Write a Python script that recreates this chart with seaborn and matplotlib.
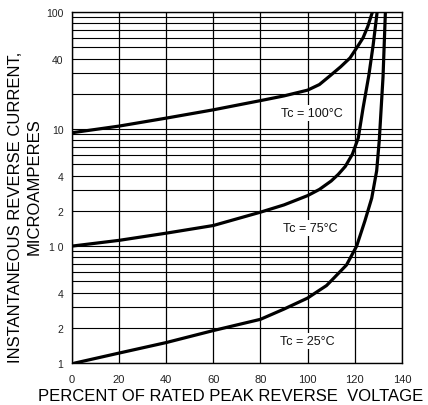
import numpy as np
import pandas as pd
import seaborn as sns
from matplotlib import pyplot as plt
from matplotlib.ticker import FixedLocator, LogLocator, NullFormatter

# Percent of rated peak reverse voltage vs current (microamperes).
pct_100 = [0, 20, 40, 60, 80, 90, 100, 105, 109.5, 114, 118, 121, 123.5, 125.5, 127.5]
cur_100 = [9.3, 10.6, 12.4, 14.6, 17.5, 19.2, 21.5, 24, 28.5, 34, 40.5, 50, 60, 75, 100]

pct_75 = [0, 20, 40, 60, 80, 90, 100, 105, 110, 113, 116, 119, 121.5, 123.5, 126, 127.8, 129.5]
cur_75 = [1.0, 1.12, 1.29, 1.5, 1.95, 2.25, 2.7, 3.05, 3.6, 4.1, 4.8, 6.1, 8.4, 15, 29, 52, 100]

pct_25 = [1, 20, 40, 60, 80, 90, 100, 105, 108, 111, 116.5, 120.8, 124.3, 127.2, 129.3, 130.4, 132, 133]
cur_25 = [0.1, 0.122, 0.15, 0.19, 0.237, 0.29, 0.36, 0.42, 0.46, 0.53, 0.69, 1.0, 1.64, 2.57, 4.4, 8, 28, 100]

curve_labels = ["Tc = 100°C", "Tc = 75°C", "Tc = 25°C"]
label_pos_x = [102, 101, 100]
label_pos_y = [13.8, 1.43, 0.155]

ytick_vals = [0.1, 0.2, 0.4, 1, 2, 4, 10, 40, 100]
ytick_text = ["1", "2", "4", "1 0", "2", "4", "10", "40", "100"]
xtick_vals = [0, 20, 40, 60, 80, 100, 120, 140]


def build_frame():
    parts = []
    for name, x, y in [("100", pct_100, cur_100), ("75", pct_75, cur_75), ("25", pct_25, cur_25)]:
        parts.append(pd.DataFrame({"pct": x, "cur": y, "tc": name}))
    return pd.concat(parts, ignore_index=True)


def main():
    sns.set_theme(style="white")
    plt.rcParams["font.family"] = ["Liberation Sans", "DejaVu Sans"]

    df = build_frame()
    fig = plt.figure(figsize=(4.28, 4.06), dpi=100)
    ax = fig.add_axes([0.168, 0.103, 0.771, 0.865])

    sns.lineplot(data=df, x="pct", y="cur", units="tc", estimator=None,
                 color="black", linewidth=2.3, ax=ax, zorder=3)

    ax.set_yscale("log")
    ax.set_xlim(0, 140)
    ax.set_ylim(0.1, 100)

    ax.xaxis.set_major_locator(FixedLocator(xtick_vals))
    ax.set_xticklabels([str(v) for v in xtick_vals])
    ax.yaxis.set_major_locator(FixedLocator(ytick_vals))
    ax.set_yticklabels(ytick_text)
    ax.yaxis.set_minor_locator(LogLocator(base=10, subs=np.arange(1, 10)))
    ax.yaxis.set_minor_formatter(NullFormatter())

    ax.grid(True, which="both", axis="y", color="black", linewidth=0.8)
    ax.grid(True, which="major", axis="x", color="black", linewidth=0.9)
    ax.tick_params(which="both", length=0)
    ax.tick_params(axis="x", pad=8, labelsize=8, labelcolor="#222222")
    ax.tick_params(axis="y", pad=6, labelsize=7.5, labelcolor="#222222")
    for s in ax.spines.values():
        s.set_color("black")
        s.set_linewidth(1.0)

    for t, x, y in zip(curve_labels, label_pos_x, label_pos_y):
        ax.text(x, y, t, ha="center", va="center", fontsize=9, color="#111111",
                bbox=dict(facecolor="white", edgecolor="none", pad=1.5), zorder=4)

    ax.set_xlabel("")
    ax.set_ylabel("")
    fig.text(0.540, 0.024, "PERCENT OF RATED PEAK REVERSE  VOLTAGE",
             ha="center", va="center", fontsize=12, color="black")
    fig.text(0.036, 0.49, "INSTANTANEOUS REVERSE CURRENT,", rotation=90,
             ha="center", va="center", fontsize=12, color="black")
    fig.text(0.080, 0.54, "MICROAMPERES", rotation=90,
             ha="center", va="center", fontsize=12, color="black")

    fig.savefig("out.png", dpi=100)


if __name__ == '__main__':
    main()
